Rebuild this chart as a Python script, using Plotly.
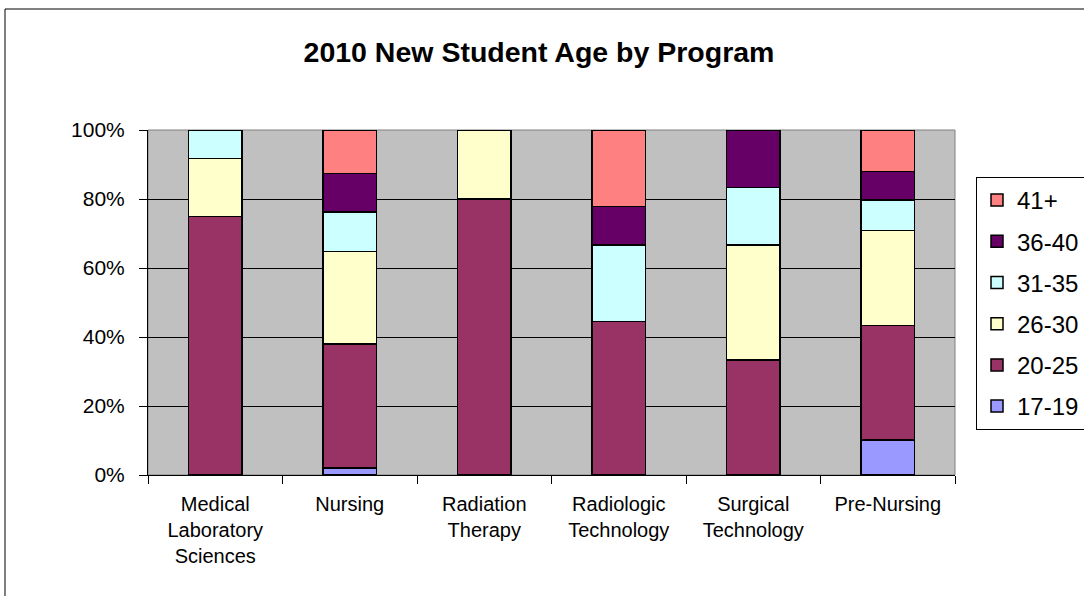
import plotly.graph_objects as go

programs = ["Medical Laboratory Sciences", "Nursing", "Radiation Therapy",
            "Radiologic Technology", "Surgical Technology", "Pre-Nursing"]
program_labels = ["Medical<br>Laboratory<br>Sciences", "Nursing", "Radiation<br>Therapy",
                  "Radiologic<br>Technology", "Surgical<br>Technology", "Pre-Nursing"]

age_groups = ["17-19", "20-25", "26-30", "31-35", "36-40", "41+"]
age_17_19 = [None, 2.1, None, None, None, 10.2]
age_20_25 = [75.0, 35.8, 80.0, 44.4, 33.3, 33.1]
age_26_30 = [16.7, 26.9, 20.0, None, 33.3, 27.5]
age_31_35 = [8.3, 11.5, None, 22.2, 16.7, 8.9]
age_36_40 = [None, 11.1, None, 11.1, 16.7, 8.2]
age_41_plus = [None, 12.6, None, 22.2, None, 12.1]
colors = ["#9999FF", "#993366", "#FFFFCC", "#CCFFFF", "#660066", "#FF8080"]
series = [age_17_19, age_20_25, age_26_30, age_31_35, age_36_40, age_41_plus]
y_ticks = [0, 20, 40, 60, 80, 100]
y_tick_labels = ["0%", "20%", "40%", "60%", "80%", "100%"]

FONT = "Liberation Sans, Arial, sans-serif"

fig = go.Figure()
n = len(age_groups)
for i, (name, vals, col) in enumerate(zip(age_groups, series, colors)):
    fig.add_trace(go.Bar(
        name=name, x=programs, y=vals, legendgroup=name, legendrank=n - i,
        marker=dict(color=col, line=dict(color="black", width=1.5)),
        hoverinfo="x+y+name",
    ))

W, H = 1084, 596
L, R, T, B = 148, 955, 130, 475
pw, ph = R - L, B - T

def px(x):
    return (x - L) / pw

def py(y):
    return (B - y) / ph

fig.update_layout(
    width=W, height=H,
    margin=dict(l=L, r=W - R, t=T, b=H - B, pad=0, autoexpand=False),
    barmode="stack", barnorm="percent", bargap=0.6,
    paper_bgcolor="white", plot_bgcolor="#C0C0C0",
    font=dict(family=FONT, color="black"),
    title=dict(text="<b>2010 New Student Age by Program</b>",
               x=539 / W, xanchor="center", y=1 - 52 / H, yanchor="middle",
               font=dict(size=28.5, family=FONT, color="black")),
    showlegend=True,
    legend=dict(x=px(976), xanchor="left", y=py(177), yanchor="top",
                traceorder="grouped", tracegroupgap=7,
                bordercolor="black", borderwidth=1, bgcolor="white",
                font=dict(size=24, family=FONT, color="black")),
    xaxis=dict(tickmode="array", tickvals=programs, ticktext=program_labels,
               showgrid=False, showline=True, linecolor="black", linewidth=1,
               ticks="outside", tickson="boundaries", ticklen=8, tickcolor="black",
               tickfont=dict(size=20, family=FONT, color="black"),
               ticklabelstandoff=11, fixedrange=True, automargin=False),
    yaxis=dict(range=[0, 100], tickmode="array", tickvals=y_ticks, ticktext=y_tick_labels,
               showgrid=True, gridcolor="black", gridwidth=1,
               showline=True, linecolor="black", linewidth=1,
               ticks="outside", ticklen=8, tickcolor="black",
               tickfont=dict(size=21, family=FONT, color="black"),
               ticklabelstandoff=10, zeroline=False, fixedrange=True, automargin=False),
    shapes=[
        dict(type="rect", xref="paper", yref="paper", x0=0, x1=1, y0=0, y1=1,
             line=dict(color="#808080", width=1), layer="below"),
        dict(type="rect", xref="paper", yref="paper",
             x0=px(5), x1=px(1100), y0=py(9), y1=py(610),
             line=dict(color="black", width=1), layer="above"),
    ],
)

fig.write_html("out.html", config={"displayModeBar": False},
               post_script="document.body.style.margin='0';document.body.style.padding='0';")
